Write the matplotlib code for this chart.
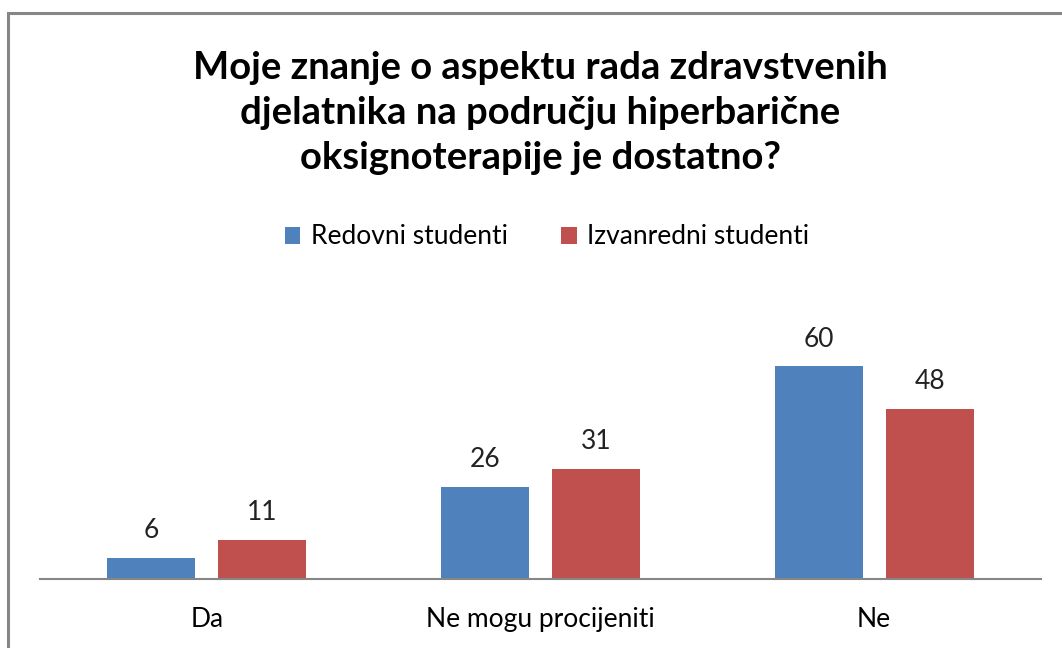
import numpy as np
from matplotlib import pyplot as plt
from matplotlib.patches import Rectangle

categories = ["Da", "Ne mogu procijeniti", "Ne"]
redovni = [6, 26, 60]
izvanredni = [11, 31, 48]
series_names = ["Redovni studenti", "Izvanredni studenti"]
title = "Moje znanje o aspektu rada zdravstvenih\ndjelatnika na području hiperbarične\noksignoterapije je dostatno?"

plt.rcParams['font.family'] = ['Lato', 'DejaVu Sans']

W, H = 1062, 648
fig = plt.figure(figsize=(W/100, H/100), dpi=100)

# chart frame (left and top edges visible, right/bottom cut off)
fig.patches.append(Rectangle((8/W, -0.1), 1.2, (H-13)/H + 0.1, transform=fig.transFigure,
                             fill=False, edgecolor="#868686", lw=2.2))

ax = fig.add_axes([40/W, (H-579)/H, (1041-40)/W, (579-330.5)/H])

x = np.arange(len(categories))
bw = 88/333.7
gap = 23/333.7
b1 = ax.bar(x - (bw+gap)/2, redovni, bw, color="#4F81BD", label=series_names[0])
b2 = ax.bar(x + (bw+gap)/2, izvanredni, bw, color="#C0504D", label=series_names[1])

for bars, vals in [(b1, redovni), (b2, izvanredni)]:
    for b, v in zip(bars, vals):
        ax.text(b.get_x() + b.get_width()/2, v + 7.6, str(v), ha="center", va="center",
                fontsize=19, color="#222222")

ax.set_xlim(-0.5, len(categories) - 0.5)
ax.set_ylim(0, 70)
ax.set_yticks([])
ax.set_xticks(x)
ax.set_xticklabels(categories, fontsize=19)
ax.tick_params(axis="x", length=0, pad=20)
for s in ["top", "right", "left"]:
    ax.spines[s].set_visible(False)
ax.spines["bottom"].set_color("#868686")
ax.spines["bottom"].set_linewidth(1.5)

fig.text(540/W, 1 - 113/H, title, ha="center", va="center", fontsize=27.5,
         fontweight="bold", linespacing=1.38)

fig.legend(handles=[b1, b2], loc="center", bbox_to_anchor=(547/W, 1 - 237/H), ncol=2,
           frameon=False, fontsize=19, handlelength=0.6, handleheight=0.6,
           columnspacing=2.0, handletextpad=0.4)

fig.savefig("out.png", dpi=100)
